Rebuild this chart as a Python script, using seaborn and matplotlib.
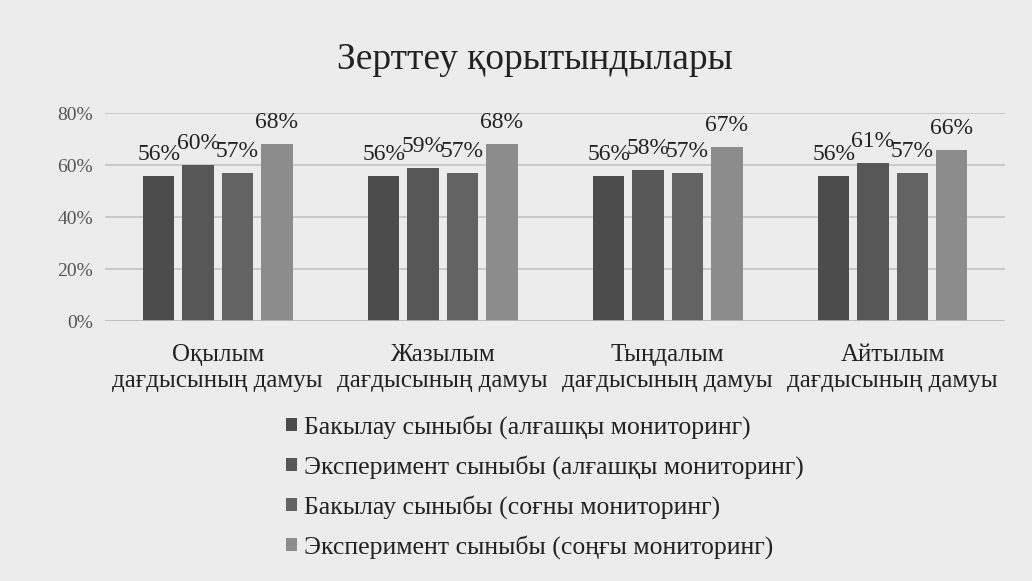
"""
Зерттеу қорытындылары - топтастырылған бағанды диаграмма
"""
import numpy as np
import pandas as pd
import matplotlib
matplotlib.use('Agg')
import matplotlib.pyplot as plt
import seaborn as sns

# деректер
categories = ['Оқылым\nдағдысының дамуы', 'Жазылым\nдағдысының дамуы',
              'Тыңдалым\nдағдысының дамуы', 'Айтылым\nдағдысының дамуы']
series_names = ['Бакылау сыныбы (алғашқы мониторинг)',
                'Эксперимент сыныбы (алғашқы мониторинг)',
                'Бакылау сыныбы (соғны мониторинг)',
                'Эксперимент сыныбы (соңғы мониторинг)']
control_start = [56, 56, 56, 56]
experiment_start = [60, 59, 58, 61]
control_end = [57, 57, 57, 57]
experiment_end = [68, 68, 67, 66]
colors = ['#4c4c4c', '#575757', '#636363', '#8c8c8c']

sns.set_theme(style='white')
plt.rcParams['font.family'] = ['Liberation Serif', 'DejaVu Serif']

# long-format DataFrame
rows = []
for name, vals in zip(series_names, [control_start, experiment_start, control_end, experiment_end]):
    for cat, v in zip(categories, vals):
        rows.append({'category': cat, 'series': name, 'value': v})
df = pd.DataFrame(rows)

fig = plt.figure(figsize=(10.32, 5.81), dpi=100, facecolor='#ececec')
ax = fig.add_axes([0.102, 0.447, 0.872, 0.358])
ax.set_facecolor('#ececec')

sns.barplot(data=df, x='category', y='value', hue='series', hue_order=series_names,
            palette=colors, width=0.7, gap=0.2, saturation=1, linewidth=0,
            ax=ax, legend=True)

for c in ax.containers:
    ax.bar_label(c, fmt='%d%%', padding=8, fontsize=17, color='#222222')

ax.set_ylim(0, 80)
ax.set_xlim(-0.5, 3.5)
ax.set_yticks([0, 20, 40, 60, 80])
ax.set_yticklabels(['0%', '20%', '40%', '60%', '80%'], fontsize=14, color='#555555')
ax.yaxis.grid(True, color='#c4c4c4', linewidth=1.2)
ax.set_axisbelow(True)
ax.tick_params(axis='x', labelsize=18, pad=16, length=0, labelcolor='#222222')
ax.tick_params(axis='y', pad=9, length=0)
for lbl in ax.get_xticklabels():
    lbl.set_linespacing(1.25)
ax.set_xlabel('')
ax.set_ylabel('')
sns.despine(ax=ax, left=True, bottom=True)
ax.axhline(0, color='#bdbdbd', linewidth=1.2)

# легенда
handles, labels = ax.get_legend_handles_labels()
ax.legend_.remove()
fig.legend(handles, labels, loc='upper left', bbox_to_anchor=(0.255, 0.326),
           frameon=False, fontsize=18.5, handlelength=0.4, handleheight=0.4,
           handletextpad=0.3, labelspacing=0.63, labelcolor='#222222')

fig.text(0.518, 0.897, 'Зерттеу қорытындылары', ha='center', va='center',
         fontsize=27, color='#222222')

fig.savefig('out.png', dpi=100, facecolor=fig.get_facecolor())
